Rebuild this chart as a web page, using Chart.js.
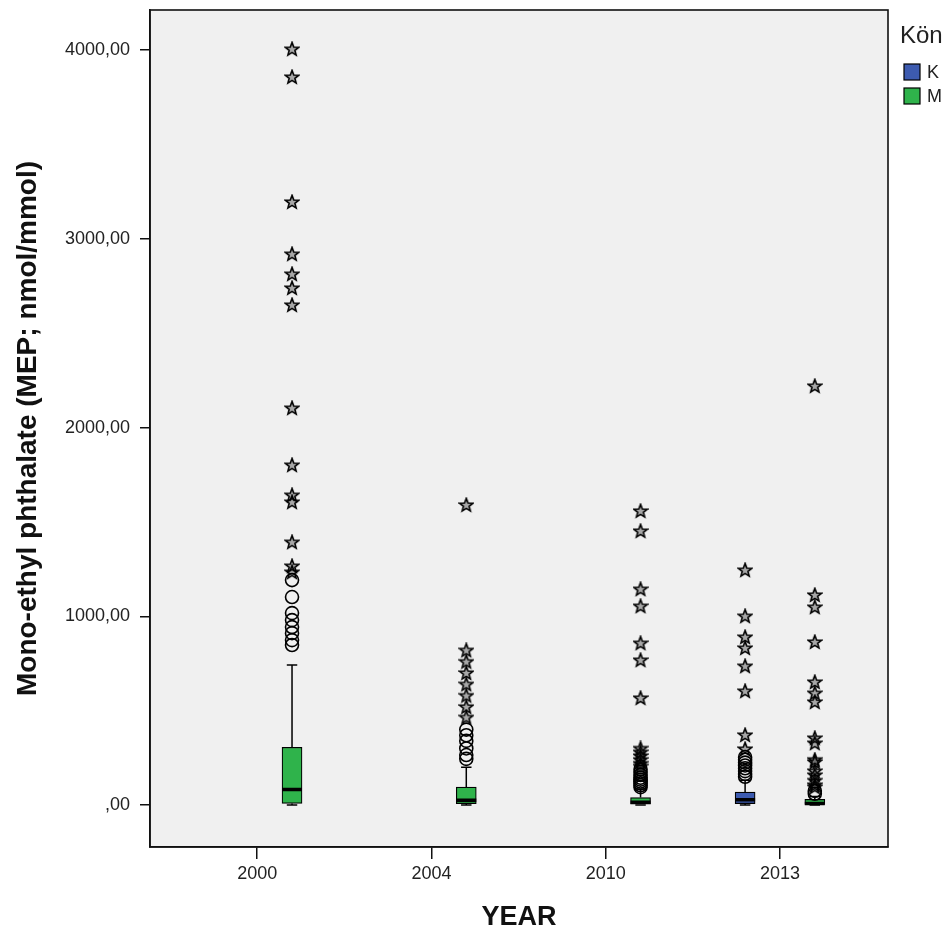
<!DOCTYPE html>
<html>
<head>
<meta charset="utf-8">
<script src="https://cdn.jsdelivr.net/npm/chart.js@4"></script>
<style>
  html, body { margin: 0; padding: 0; background: #fff; }
  #wrap { width: 952px; height: 935px; }
</style>
</head>
<body>
<div id="wrap"><canvas id="c" width="952" height="935"></canvas></div>
<script>
// ---------------- data ----------------
const years = ['2000', '2004', '2010', '2013'];
const groups = ['K', 'M'];
const groupColors = ['#3d5bb0', '#2fb34b'];
// box stats per year: [whiskerLow, q1, median, q3, whiskerHigh]; null = no box
const kStats = [null, null, null, [0, 8, 28, 69, 132]];
const mStats = [[0, 9, 83, 306, 742], [0, 8, 25, 95, 200], [0, 5, 15, 40, 85], [0, 3, 8, 30, 45]];
// outliers (circles) and extremes (stars) per year
const kCircles = [[], [], [], [150, 165, 180, 195, 210, 225, 240, 254]];
const kStars = [[], [], [], [297, 371, 604, 736, 832, 890, 1001, 1245]];
const mCircles = [
  [848, 874, 911, 943, 980, 1017, 1102, 1192],
  [245, 265, 300, 340, 370, 400],
  [95, 105, 115, 125, 135, 145, 160, 175, 190],
  [60, 75]
];
const mStars = [
  [1234, 1266, 1393, 1605, 1642, 1801, 2103, 2649, 2739, 2813, 2919, 3195, 3857, 4005],
  [465, 520, 580, 640, 700, 760, 820, 1590],
  [205, 220, 240, 260, 280, 300, 567, 768, 858, 1054, 1144, 1452, 1558],
  [95, 106, 130, 159, 180, 228, 240, 328, 355, 546, 593, 652, 864, 1049, 1113, 2220]
];
const yTicks = [0, 1000, 2000, 3000, 4000];
const yTickLabels = [',00', '1000,00', '2000,00', '3000,00', '4000,00'];

// ---------------- helpers ----------------
const FONT = "'Liberation Sans', Arial, sans-serif";
const groupOffset = [-0.2, 0.2];
const BOX_HALF = 0.0573;
const CAP_HALF = 0.03;
const allStats = [kStats, mStats];
const allCircles = [kCircles, mCircles];
const allStars = [kStars, mStars];

function starCanvas() {
  const c = document.createElement('canvas');
  c.width = 16; c.height = 16;
  const g = c.getContext('2d');
  g.beginPath();
  for (let i = 0; i < 10; i++) {
    const r = i % 2 === 0 ? 7 : 3;
    const a = -Math.PI / 2 + i * Math.PI / 5;
    const px = 8 + r * Math.cos(a), py = 8.4 + r * Math.sin(a);
    if (i === 0) g.moveTo(px, py); else g.lineTo(px, py);
  }
  g.closePath();
  g.fillStyle = 'rgba(0,0,0,0.3)';
  g.fill();
  g.strokeStyle = '#000';
  g.lineWidth = 1.6;
  g.stroke();
  return c;
}
const STAR = starCanvas();

const datasets = [];
const whiskerPts = [];
const medianPts = [];
const gap = (x) => ({ x: x, y: null });

groups.forEach((gName, gi) => {
  const boxData = [];
  const circ = [];
  const stars = [];
  allStats[gi].forEach((s, yi) => {
    const x = yi + groupOffset[gi];
    if (s) {
      const [lo, q1, med, q3, hi] = s;
      boxData.push({ x: x, y: [q1, q3] });
      whiskerPts.push({ x: x, y: q3 }, { x: x, y: hi }, gap(x));
      whiskerPts.push({ x: x - CAP_HALF, y: hi }, { x: x + CAP_HALF, y: hi }, gap(x));
      whiskerPts.push({ x: x, y: q1 }, { x: x, y: lo }, gap(x));
      whiskerPts.push({ x: x - CAP_HALF, y: lo }, { x: x + CAP_HALF, y: lo }, gap(x));
      medianPts.push({ x: x - BOX_HALF, y: med }, { x: x + BOX_HALF, y: med }, gap(x));
    }
    allCircles[gi][yi].forEach(v => circ.push({ x: x, y: v }));
    allStars[gi][yi].forEach(v => stars.push({ x: x, y: v }));
  });
  datasets.push({
    type: 'bar', label: gName, data: boxData,
    backgroundColor: groupColors[gi], borderColor: '#000', borderWidth: 1.2,
    borderSkipped: false, barThickness: 20, barPercentage: 1, grouped: false, order: 4
  });
  datasets.push({
    type: 'scatter', label: gName + ' outliers', data: circ,
    pointStyle: 'circle', pointRadius: 6.5, borderWidth: 1.6,
    borderColor: '#000', backgroundColor: 'rgba(0,0,0,0)', order: 1
  });
  datasets.push({
    type: 'scatter', label: gName + ' extremes', data: stars,
    pointStyle: STAR, pointRadius: 7, order: 1
  });
});
datasets.push({
  type: 'line', label: 'whiskers', data: whiskerPts, borderColor: '#000',
  borderWidth: 1.5, pointRadius: 0, spanGaps: false, fill: false, order: 5
});
datasets.push({
  type: 'line', label: 'medians', data: medianPts, borderColor: '#000',
  borderWidth: 3.5, pointRadius: 0, spanGaps: false, fill: false, order: 3
});

const bgPlugin = {
  id: 'bg',
  beforeDraw(chart) {
    const { ctx, chartArea: a } = chart;
    ctx.save();
    ctx.fillStyle = '#fff';
    ctx.fillRect(0, 0, chart.width, chart.height);
    ctx.fillStyle = '#f0f0f0';
    ctx.fillRect(a.left, a.top, a.right - a.left, a.bottom - a.top);
    ctx.restore();
  },
  afterDraw(chart) {
    const { ctx, chartArea: a } = chart;
    ctx.save();
    ctx.strokeStyle = '#111';
    ctx.lineWidth = 1.6;
    ctx.strokeRect(a.left, a.top, a.right - a.left, a.bottom - a.top);
    // legend
    ctx.fillStyle = '#222';
    ctx.font = '24px ' + FONT;
    ctx.textBaseline = 'alphabetic';
    ctx.textAlign = 'left';
    ctx.fillText('Kön', a.right + 12, 43);
    groups.forEach((gName, gi) => {
      const y = 64 + gi * 24;
      ctx.fillStyle = groupColors[gi];
      ctx.fillRect(a.right + 16, y, 16, 16);
      ctx.strokeStyle = '#000';
      ctx.lineWidth = 1.2;
      ctx.strokeRect(a.right + 16, y, 16, 16);
      ctx.fillStyle = '#222';
      ctx.font = '18px ' + FONT;
      ctx.textBaseline = 'middle';
      ctx.fillText(gName, a.right + 39, y + 9);
    });
    ctx.restore();
  }
};

new Chart(document.getElementById('c'), {
  type: 'scatter',
  data: { datasets },
  options: {
    responsive: false,
    animation: false,
    events: [],
    layout: { padding: { top: 10, right: 64, left: 0, bottom: 0 } },
    plugins: { legend: { display: false }, tooltip: { enabled: false } },
    scales: {
      x: {
        type: 'linear', min: -0.615, max: 3.62, offset: false,
        afterBuildTicks(scale) { scale.ticks = years.map((_, i) => ({ value: i })); },
        afterFit(scale) { scale.height = 88; scale.paddingLeft = 0; scale.paddingRight = 0; },
        ticks: {
          autoSkip: false, maxRotation: 0, color: '#222', padding: 4,
          font: { family: FONT, size: 18 },
          callback: (v) => years[v] !== undefined ? years[v] : ''
        },
        grid: { offset: false, drawOnChartArea: false, drawTicks: true, tickLength: 12, color: '#111', lineWidth: 1.5 },
        border: { display: true, color: '#111', width: 1.6 },
        title: {
          display: true, text: 'YEAR', color: '#111',
          font: { family: FONT, size: 27, weight: 'bold' }, padding: { top: 0, bottom: 1 }
        }
      },
      y: {
        type: 'linear', min: -222, max: 4212,
        afterBuildTicks(scale) { scale.ticks = yTicks.map(v => ({ value: v })); },
        afterFit(scale) { scale.width = 150; scale.paddingTop = 0; scale.paddingBottom = 0; },
        ticks: {
          color: '#222', padding: 10,
          font: { family: FONT, size: 18 },
          callback: (v) => { const i = yTicks.indexOf(v); return i >= 0 ? yTickLabels[i] : ''; }
        },
        grid: { drawOnChartArea: false, drawTicks: true, tickLength: 10, color: '#111', lineWidth: 1.5 },
        border: { display: true, color: '#111', width: 1.6 },
        title: {
          display: true, text: 'Mono-ethyl phthalate (MEP; nmol/mmol)', color: '#111',
          font: { family: FONT, size: 28, weight: 'bold' }, padding: { top: 11, bottom: 0 }
        }
      }
    }
  },
  plugins: [bgPlugin]
});
</script>
</body>
</html>
